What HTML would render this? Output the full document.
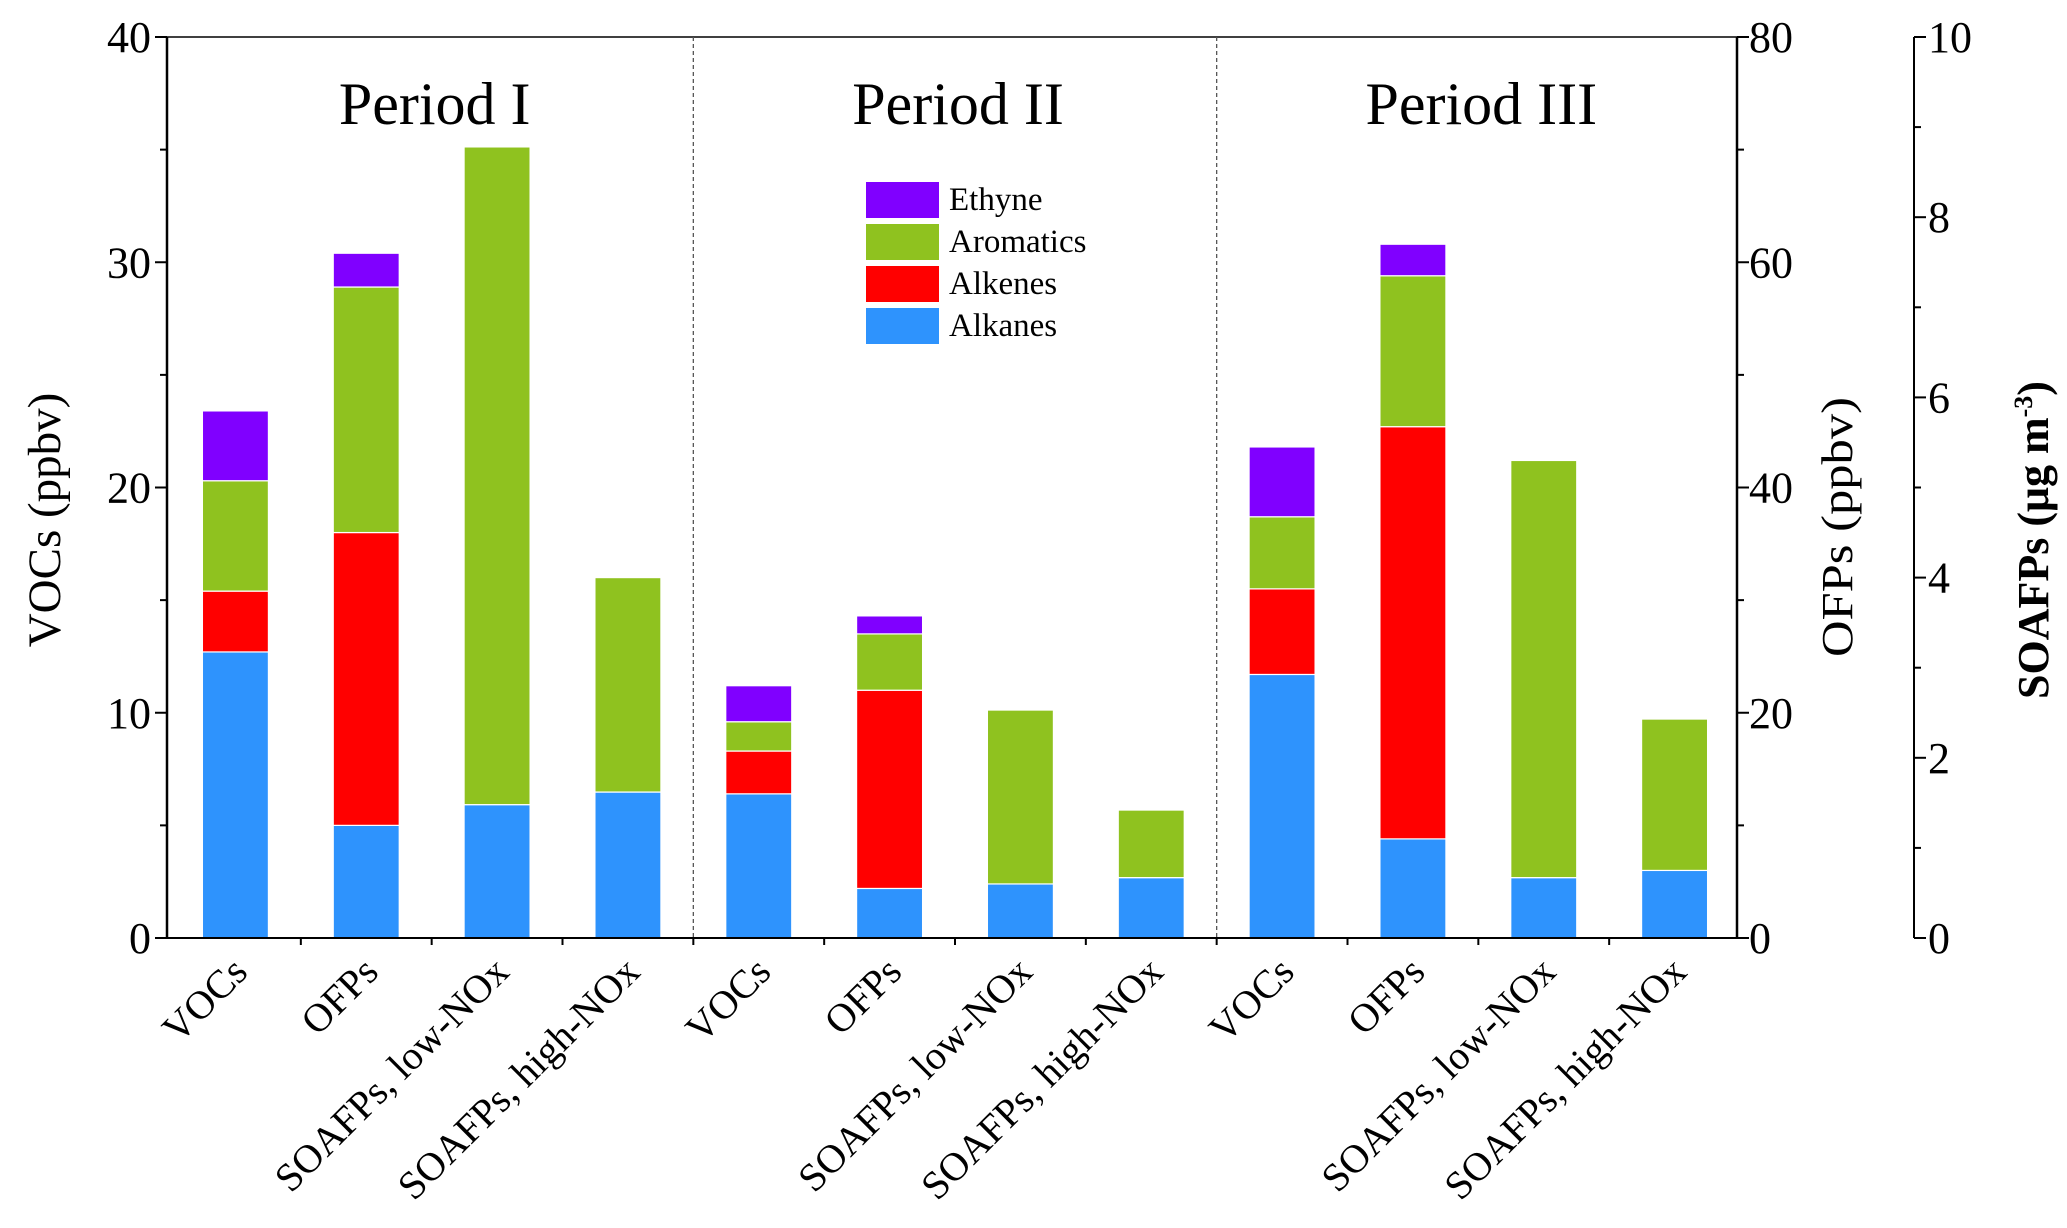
<!DOCTYPE html>
<html><head><meta charset="utf-8"><style>
html,body{margin:0;padding:0;background:#fff}
svg{display:block;font-family:"Liberation Serif",serif}
</style></head><body>
<svg id="chart" width="2067" height="1228" viewBox="0 0 2067 1228" xmlns="http://www.w3.org/2000/svg"></svg>
<script>
const categories = ["VOCs","OFPs","SOAFPs, low-NOx","SOAFPs, high-NOx","VOCs","OFPs","SOAFPs, low-NOx","SOAFPs, high-NOx","VOCs","OFPs","SOAFPs, low-NOx","SOAFPs, high-NOx"];
const axisOf = ["voc","ofp","soa","soa","voc","ofp","soa","soa","voc","ofp","soa","soa"];
const alkanes   = [12.7, 10.0, 1.48, 1.62, 6.4, 4.4, 0.60, 0.67, 11.7, 8.8, 0.67, 0.75];
const alkenes   = [2.7, 26.0, 0, 0, 1.9, 17.6, 0, 0, 3.8, 36.6, 0, 0];
const aromatics = [4.9, 21.8, 7.30, 2.38, 1.3, 5.0, 1.93, 0.75, 3.2, 13.4, 4.63, 1.68];
const ethyne    = [3.1, 3.0, 0, 0, 1.6, 1.6, 0, 0, 3.1, 2.8, 0, 0];
const seriesNames = ["Alkanes","Alkenes","Aromatics","Ethyne"];
const vocTicks = [0,10,20,30,40];
const ofpTicks = [0,20,40,60,80];
const soaTicks = [0,2,4,6,8,10];
const periods = ["Period I","Period II","Period III"];

const NS="http://www.w3.org/2000/svg";
const svg=document.getElementById('chart');
const L=167,R=1737,T=37,B=938,AX3=1914;
const colors=["#2e93fd","#ff0000","#8fc21f","#8000ff"];
const max={voc:40,ofp:80,soa:10};
function yScale(ax,v){return B-(v/max[ax])*(B-T);}
const step=(R-L)/12;
function xC(i){return L+step*(i+0.5)+3;}
function el(tag,attrs,parent){const e=document.createElementNS(NS,tag);for(const k in attrs)e.setAttribute(k,attrs[k]);(parent||svg).appendChild(e);return e;}
function txt(s,attrs,parent){const e=el('text',attrs,parent);e.textContent=s;return e;}

const series=[alkanes,alkenes,aromatics,ethyne];
const bw=66;
categories.forEach((c,i)=>{
  const g=el('g',{});
  
  
  let cum=0;
  series.forEach((s,k)=>{
    const v=s[i]; if(!v) return;
    const y0=yScale(axisOf[i],cum), y1=yScale(axisOf[i],cum+v);
    const r=el('rect',{x:xC(i)-bw/2,y:y1,width:bw,height:y0-y1,fill:colors[k],stroke:"#fff","stroke-width":1.2},g);
    
    
    cum+=v;
  });
});

el('line',{x1:L,y1:T,x2:R,y2:T,stroke:"#000","stroke-width":1.5});
el('line',{x1:L,y1:B,x2:R,y2:B,stroke:"#000","stroke-width":2});
const la=el('line',{x1:L,y1:T,x2:L,y2:B,stroke:"#000","stroke-width":2.5});

const ra=el('line',{x1:R,y1:T,x2:R,y2:B,stroke:"#000","stroke-width":2.5});

const ta=el('line',{x1:AX3,y1:T,x2:AX3,y2:B,stroke:"#000","stroke-width":2});

[4,8].forEach(i=>{const d=el('line',{x1:L+step*i+3,y1:T,x2:L+step*i+3,y2:B,stroke:"#555","stroke-width":1.3,"stroke-dasharray":"4,3"});
});

for(let v=0;v<=40;v+=5){const y=yScale('voc',v);el('line',{x1:L,y1:y,x2:L-(v%10?7:12),y2:y,stroke:"#000","stroke-width":2});}
vocTicks.forEach(v=>{const t=txt(String(v),{x:L-16,y:yScale('voc',v)+15,"font-size":44,"text-anchor":"end"});});
for(let v=0;v<=80;v+=10){const y=yScale('ofp',v);el('line',{x1:R,y1:y,x2:R+(v%20?7:12),y2:y,stroke:"#000","stroke-width":2});}
ofpTicks.forEach(v=>{const t=txt(String(v),{x:R+12,y:yScale('ofp',v)+15,"font-size":44});});
for(let v=0;v<=10;v+=1){const y=yScale('soa',v);el('line',{x1:AX3,y1:y,x2:AX3+(v%2?7:12),y2:y,stroke:"#000","stroke-width":2});}
soaTicks.forEach(v=>{const t=txt(String(v),{x:AX3+14,y:yScale('soa',v)+15,"font-size":44});});
for(let i=1;i<12;i++){el('line',{x1:L+step*i+3,y1:B,x2:L+step*i+3,y2:B+7,stroke:"#000","stroke-width":2});}

categories.forEach((c,i)=>{
  const x=xC(i)+14,y=B+36;
  const t=txt(c,{x:x,y:y,"font-size":40,"text-anchor":"end",transform:`rotate(-45 ${x} ${y})`});
  
  
});

periods.forEach((p,i)=>{const t=txt(p,{x:L+step*(4*i+2)+6,y:124,"font-size":60,"text-anchor":"middle"});
});

let t=txt("VOCs (ppbv)",{x:0,y:0,"font-size":47,"text-anchor":"middle",transform:"translate(60 520) rotate(-90)"});

t=txt("OFPs (ppbv)",{x:0,y:0,"font-size":44,"text-anchor":"middle",textLength:260,lengthAdjust:"spacingAndGlyphs",transform:"translate(1852 527) rotate(-90)"});

t=el('text',{x:0,y:0,"font-size":44,"font-weight":"bold","text-anchor":"middle",transform:"translate(2048 540) rotate(-90)"});

t.innerHTML='SOAFPs (μg m<tspan dy="-16" font-size="26">-3</tspan><tspan dy="16">)</tspan>';

const legend=el('g',{});

const legItems=[["Ethyne",3],["Aromatics",2],["Alkenes",1],["Alkanes",0]];
legItems.forEach((it,j)=>{
  const y=182+j*42;
  const r=el('rect',{x:866,y:y,width:73,height:36,fill:colors[it[1]]},legend);
  
  const lt=txt(it[0],{x:949,y:y+28,"font-size":33},legend);
  
});
</script>
</body></html>
